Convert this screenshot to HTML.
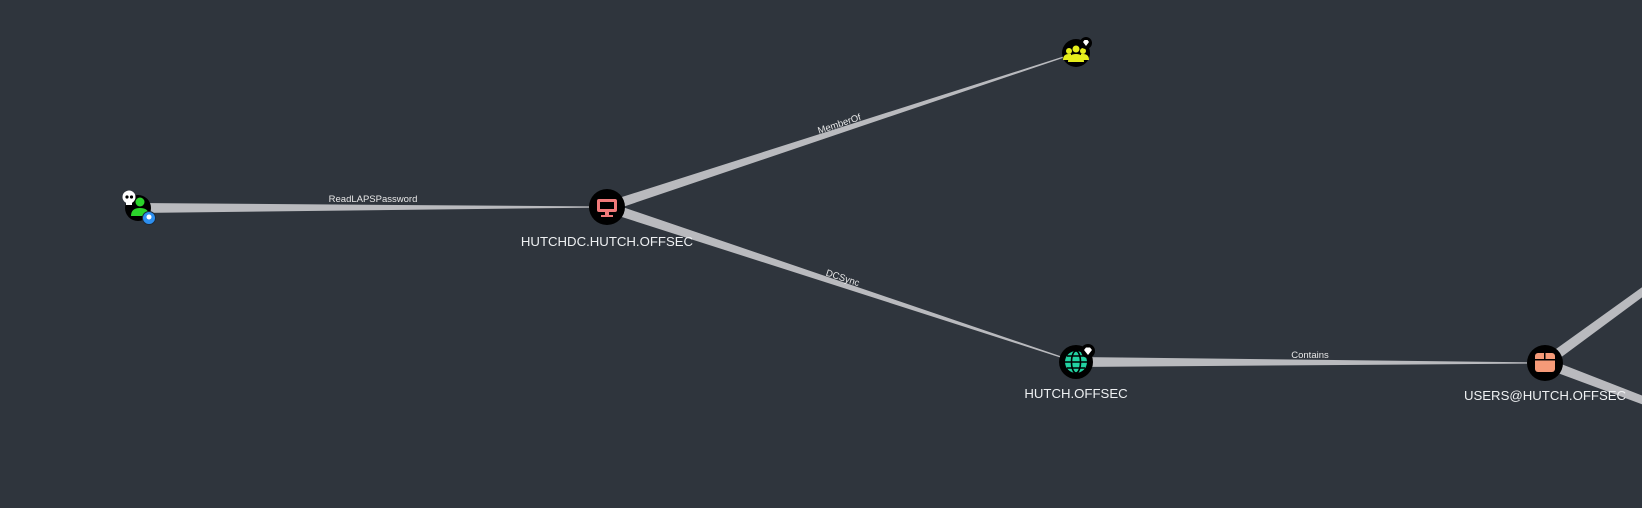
<!DOCTYPE html>
<html><head><meta charset="utf-8"><style>
html,body{margin:0;padding:0;background:#2f353d;width:1642px;height:508px;overflow:hidden}
svg{display:block}
text{font-family:"Liberation Sans",sans-serif}
</style></head><body>
<svg id="s" width="1642" height="508" viewBox="0 0 1642 508">
<rect width="1642" height="508" fill="#2f353d"/>
<g id="edges"></g>
<g fill="#e8e8e8" font-size="9.5" text-anchor="middle">
<text x="373" y="202">ReadLAPSPassword</text>
<text x="839" y="127" transform="rotate(-18.3 839 123)">MemberOf</text>
<text x="843" y="281" transform="rotate(18.3 843 277)">DCSync</text>
<text x="1310" y="358">Contains</text>
</g>
<g>
<circle cx="138" cy="208" r="13" fill="#000"/>
<circle cx="140" cy="202" r="4.5" fill="#2bd42b"/>
<path d="M131 216 q0 -8 9 -8 q9 0 9 8 z" fill="#2bd42b"/>
<circle cx="129" cy="197" r="6.5" fill="#fff"/>
<rect x="126" y="201" width="6" height="4" fill="#fff"/>
<circle cx="127" cy="197" r="1.6" fill="#000"/><circle cx="131.5" cy="197" r="1.6" fill="#000"/>
<circle cx="149" cy="218" r="6.5" fill="#2d8ff0" stroke="#1e2a38" stroke-width="1"/>
<circle cx="149" cy="217" r="2.5" fill="#fff"/>
</g>
<g>
<circle cx="607" cy="207" r="18" fill="#000"/>
<rect x="597" y="199" width="20" height="13" rx="2" fill="#f07a7a"/>
<rect x="600" y="202" width="14" height="7" fill="#000"/>
<rect x="605" y="212" width="4" height="3" fill="#f07a7a"/>
<rect x="601" y="215" width="12" height="2" fill="#f07a7a"/>
</g>
<g>
<circle cx="1076" cy="53" r="14" fill="#000"/>
<circle cx="1076" cy="49" r="3.5" fill="#e6ee1c"/>
<circle cx="1069" cy="51" r="3" fill="#e6ee1c"/>
<circle cx="1083" cy="51" r="3" fill="#e6ee1c"/>
<path d="M1068 62 q0-8 8-8 q8 0 8 8z" fill="#e6ee1c"/>
<path d="M1063 60 q0-6 6-6 l2 0 l0 6z M1089 60 q0-6 -6-6 l-2 0 l0 6z" fill="#e6ee1c"/>
<circle cx="1086" cy="43" r="6" fill="#000"/>
<path d="M1083 42 l1.5-2 h3 l1.5 2 l-3 4z" fill="#fff"/>
</g>
<g>
<circle cx="1076" cy="362" r="17" fill="#000"/>
<circle cx="1076" cy="362" r="11" fill="#22d3a2"/>
<g stroke="#000" stroke-width="1.6" fill="none">
<ellipse cx="1076" cy="362" rx="4.5" ry="11"/>
<line x1="1065" y1="362" x2="1087" y2="362"/>
<line x1="1067" y1="356" x2="1085" y2="356"/>
<line x1="1067" y1="368" x2="1085" y2="368"/>
</g>
<circle cx="1088" cy="351" r="7" fill="#000"/>
<path d="M1084 350 l2-2.5 h4 l2 2.5 l-4 5z" fill="#fff"/>
</g>
<g>
<circle cx="1545" cy="363" r="18" fill="#000"/>
<rect x="1535" y="353" width="20" height="19" rx="3" fill="#f59a78"/>
<rect x="1535" y="359" width="20" height="1.5" fill="#000"/>
<rect x="1544" y="353" width="1.5" height="7" fill="#000"/>
</g>
<g fill="#eef0f2" font-size="13.2" text-anchor="middle">
<text x="607" y="246">HUTCHDC.HUTCH.OFFSEC</text>
<text x="1076" y="398">HUTCH.OFFSEC</text>
<text x="1545" y="400">USERS@HUTCH.OFFSEC</text>
</g>
</svg>
<script>
var E=[[138,208,607,207],[607,207,1076,53],[607,207,1076,362],[1076,362,1545,363],[1545,363,1700,250],[1545,363,1700,422]];
var g=document.getElementById('edges'),h='';
E.forEach(function(e,i){var dx=e[2]-e[0],dy=e[3]-e[1],L=Math.hypot(dx,dy),nx=-dy/L,ny=dx/L;
var w1=5,w2=i>=4?3.5:0.5;
h+='<polygon fill="#b9babe" points="'+[e[0]+nx*w1,e[1]+ny*w1,e[2]+nx*w2,e[3]+ny*w2,e[2]-nx*w2,e[3]-ny*w2,e[0]-nx*w1,e[1]-ny*w1].join(' ')+'"/>';});
g.innerHTML=h;
</script>
</body></html>
